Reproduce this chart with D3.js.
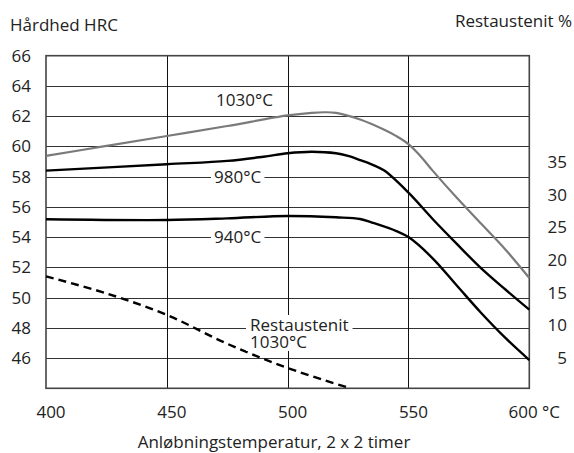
<!DOCTYPE html>
<html lang="da">
<head>
<meta charset="UTF-8">
<title>Hårdhed / Restaustenit</title>
<script src="https://d3js.org/d3.v7.min.js"></script>
<style>
  html, body { margin: 0; padding: 0; background: #fff; }
  svg { display: block; }
  text { font-family: "Open Sans", "Noto Sans", sans-serif; font-size: 17px; fill: #222; }
</style>
</head>
<body>
<svg id="chart" width="574" height="453"></svg>
<script>
// temperatures (°C) where the curves were read
const temps1030 = [400, 425, 450, 475, 500, 510, 515, 520, 530, 540, 545, 550, 555, 560, 570, 580, 590, 600];
const hrc1030   = [59.37, 60.03, 60.69, 61.35, 62.05, 62.22, 62.26, 62.22, 61.78, 61.1, 60.68, 60.15, 59.35, 58.4, 56.6, 54.9, 53.2, 51.3];

const temps980 = [400, 450, 475, 490, 500, 510, 520, 525, 530, 535, 540, 550, 560, 570, 580, 590, 600];
const hrc980   = [58.4, 58.82, 59.04, 59.32, 59.55, 59.65, 59.55, 59.37, 59.1, 58.8, 58.4, 56.94, 55.2, 53.55, 51.95, 50.55, 49.2];

const temps940 = [400, 450, 475, 500, 520, 530, 535, 545, 550, 560, 570, 580, 590, 600];
const hrc940   = [55.18, 55.13, 55.24, 55.4, 55.31, 55.2, 54.96, 54.4, 54.0, 52.6, 50.8, 49.0, 47.35, 45.87];

// retained austenite after hardening from 1030°C (right axis, %)
const tempsRest = [400, 425, 450, 475, 500, 526];
const restPct   = [17.1, 14.5, 11.2, 6.8, 3.1, 0];

const xTicks = [400, 450, 500, 550, 600];
const hrcTicks = [46, 48, 50, 52, 54, 56, 58, 60, 62, 64, 66];
const restTicks = [5, 10, 15, 20, 25, 30, 35];

const svg = d3.select("#chart");
const plotL = 46, plotR = 529.3, plotT = 55.7, plotB = 388.3;

const x = d3.scaleLinear().domain([400, 600]).range([plotL, plotR]);
const y = d3.scaleLinear().domain([44, 66]).range([plotB, plotT]);
const y2 = d3.scaleLinear().domain([0, 50.8]).range([plotB, plotT]);

// grid
const grid = svg.append("g");
grid.selectAll(".h").data(hrcTicks.filter(d => d < 66)).enter().append("line")
    .attr("x1", plotL).attr("x2", plotR)
    .attr("y1", d => Math.round(y(d)) + 0.5).attr("y2", d => Math.round(y(d)) + 0.5)
    .attr("stroke", "#333").attr("stroke-width", 1);
grid.selectAll(".v").data(xTicks.slice(1, -1)).enter().append("line")
    .attr("y1", plotT).attr("y2", plotB)
    .attr("x1", d => Math.round(x(d)) + 0.5).attr("x2", d => Math.round(x(d)) + 0.5)
    .attr("stroke", "#111").attr("stroke-width", 1);
grid.append("rect")
    .attr("x", plotL).attr("y", plotT)
    .attr("width", plotR - plotL).attr("height", plotB - plotT)
    .attr("fill", "none").attr("stroke", "#444").attr("stroke-width", 1.6);

// curves
const line = d3.line().x(d => x(d[0])).y(d => y(d[1])).curve(d3.curveCatmullRom.alpha(0.5));
const lineRest = d3.line().x(d => x(d[0])).y(d => y2(d[1])).curve(d3.curveCatmullRom.alpha(0.5));

svg.append("path").datum(d3.zip(temps1030, hrc1030))
    .attr("d", line).attr("fill", "none").attr("stroke", "#7a7a7a").attr("stroke-width", 2.2);
svg.append("path").datum(d3.zip(temps980, hrc980))
    .attr("d", line).attr("fill", "none").attr("stroke", "#000").attr("stroke-width", 2.4);
svg.append("path").datum(d3.zip(temps940, hrc940))
    .attr("d", line).attr("fill", "none").attr("stroke", "#000").attr("stroke-width", 2.4);
svg.append("path").datum(d3.zip(tempsRest, restPct))
    .attr("d", lineRest).attr("fill", "none").attr("stroke", "#000").attr("stroke-width", 2.4)
    .attr("stroke-dasharray", "8,5");

// curve labels (white box hides the grid line behind the text)
function boxedLabel(lines, tx, cy, pad) {
    const g = svg.append("g");
    const rect = g.append("rect").attr("fill", "#fff");
    const t = g.append("text").attr("x", tx).attr("y", cy);
    lines.forEach((s, i) => {
        t.append("tspan").attr("x", tx).attr("dy", i === 0 ? "0.35em" : "1em").text(s);
    });
    if (pad !== null) {
        const b = t.node().getBBox();
        rect.attr("x", b.x - pad).attr("y", b.y + 2).attr("width", b.width + 2 * pad).attr("height", b.height - 4);
    }
}
boxedLabel(["1030°C"], 216, 100, null);
boxedLabel(["980°C"], 214, y(58), 3);
boxedLabel(["940°C"], 214, y(54), 3);
boxedLabel(["Restaustenit", "1030°C"], 250, 325, 4);

// left axis labels
svg.append("g").selectAll("text").data(hrcTicks).enter().append("text")
    .attr("x", 31).attr("y", d => y(d)).attr("dy", "0.35em")
    .attr("text-anchor", "end").text(d => d);

// right axis labels
svg.append("g").selectAll("text").data(restTicks).enter().append("text")
    .attr("x", 567).attr("y", d => y2(d) + 2.7).attr("dy", "0.35em")
    .attr("text-anchor", "end").text(d => d);

// bottom axis labels
svg.append("g").selectAll("text").data(xTicks).enter().append("text")
    .attr("x", d => x(d) + 5).attr("y", 411.7).attr("dy", "0.35em")
    .attr("text-anchor", "middle").text(d => d === 600 ? "600 °C" : d);

// titles
svg.append("text").attr("x", 10).attr("y", 30.5).text("Hårdhed HRC");
svg.append("text").attr("x", 572).attr("y", 27.3).attr("text-anchor", "end").text("Restaustenit %");
svg.append("text").attr("x", 274).attr("y", 448).attr("text-anchor", "middle")
    .text("Anløbningstemperatur, 2 x 2 timer");
</script>
</body>
</html>
